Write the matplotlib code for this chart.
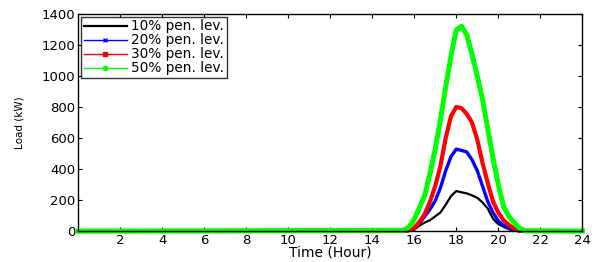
import matplotlib
matplotlib.use("Agg")
import matplotlib.pyplot as plt
from matplotlib.lines import Line2D

plt.rcParams['font.family'] = ['DejaVu Sans']

# time in hours, hump sampled every 15 minutes
hours = [0, 15.5, 15.75, 16.0, 16.25, 16.5, 16.75, 17.0, 17.25, 17.5, 17.75,
         18.0, 18.25, 18.5, 18.75, 19.0, 19.25, 19.5, 19.75, 20.0, 20.25,
         20.5, 20.75, 21.0, 21.25, 24]

load_10 = [0, 0, 2, 10, 35, 55, 70, 95, 120, 170, 225,
           258, 250, 243, 230, 215, 185, 145, 80, 45, 28,
           12, 3, 0, 0, 0]
load_20 = [0, 0, 3, 20, 50, 95, 140, 195, 280, 390, 480,
           528, 520, 510, 460, 390, 290, 190, 120, 65, 38,
           22, 8, 0, 0, 0]
load_30 = [0, 0, 5, 20, 60, 110, 190, 290, 420, 600, 740,
           800, 792, 755, 700, 590, 440, 310, 190, 120, 70,
           40, 18, 5, 0, 0]
load_50 = [0, 5, 25, 75, 150, 230, 370, 530, 720, 930, 1130,
           1295, 1320, 1265, 1140, 1000, 850, 660, 470, 300, 160,
           95, 55, 20, 3, 0]

labels = ['10% pen. lev.', '20% pen. lev.', '30% pen. lev.', '50% pen. lev.']
xticks = list(range(2, 25, 2))
yticks = list(range(0, 1401, 200))

fig = plt.figure(figsize=(5.96, 2.62), dpi=100)
ax = fig.add_axes([0.131, 0.118, 0.846, 0.829])

ax.plot(hours, load_10, color='black', lw=1.6, clip_on=False)
ax.plot(hours, load_20, color='blue', lw=2.4, clip_on=False)
ax.plot(hours, load_30, color='red', lw=3.0, clip_on=False)
ax.plot(hours, load_50, color='#00ff00', lw=3.6, clip_on=False)

ax.set_xlim(0, 24)
ax.set_ylim(0, 1400)
ax.set_xticks(xticks)
ax.set_yticks(yticks)
ax.tick_params(direction='in', top=True, right=True, labelsize=9.5,
               length=3, width=0.8, pad=2)
for s in ax.spines.values():
    s.set_linewidth(1.0)

ax.set_xlabel('Time (Hour)', fontsize=10, labelpad=-1)
ax.set_ylabel('Load (kW)', fontsize=7.5, labelpad=12)

handles = [
    Line2D([], [], color='black', lw=1.6),
    Line2D([], [], color='blue', lw=1.0, marker='x', ms=3),
    Line2D([], [], color='red', lw=1.0, marker='s', ms=2.5),
    Line2D([], [], color='#00ff00', lw=1.0, marker='o', ms=3),
]
leg = ax.legend(handles, labels, loc='upper left', fontsize=9.8,
                frameon=True, fancybox=False, edgecolor='black',
                borderpad=0.2, labelspacing=0.0, handlelength=3.2,
                handletextpad=0.3, borderaxespad=0.2)
leg.get_frame().set_linewidth(1.0)

fig.savefig('out.png', dpi=100)
